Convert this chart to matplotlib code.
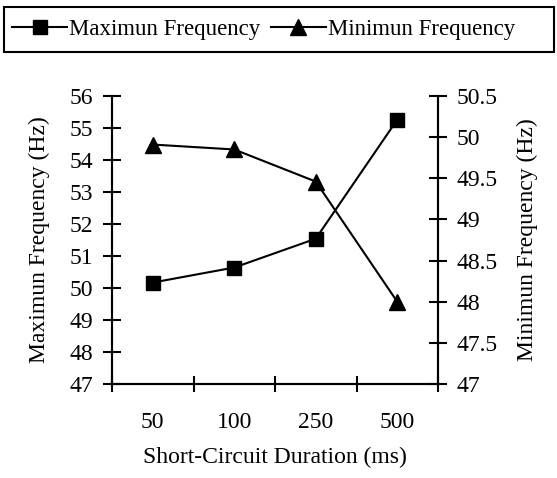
import numpy as np
import matplotlib.pyplot as plt
from matplotlib.patches import Rectangle

plt.rcParams['font.family'] = ['Liberation Serif', 'DejaVu Serif']
plt.rcParams['font.size'] = 17

durations = ['50', '100', '250', '500']
max_freq = [50.17, 50.64, 51.54, 55.26]
min_freq = [49.91, 49.85, 49.46, 48.0]

W, H = 557, 478
fig = plt.figure(figsize=(W / 100, H / 100), dpi=100)
ax = fig.add_axes([112 / W, 1 - 384 / H, 326 / W, 288 / H])
ax2 = ax.twinx()

x = np.arange(len(durations)) + 0.5

l1, = ax.plot(x, max_freq, color='black', lw=1.5, marker='s', ms=10,
              label='Maximun Frequency')
l2, = ax2.plot(x, min_freq, color='black', lw=1.5, marker='^', ms=11,
               label='Minimun Frequency')

ax.set_xlim(0, 4)
ax.set_ylim(47, 56)
ax.set_yticks(np.arange(47, 57, 1))
ax2.set_ylim(47, 50.5)
ax2.set_yticks(np.arange(47, 50.51, 0.5))
ax2.set_yticklabels(['47', '47.5', '48', '48.5', '49', '49.5', '50', '50.5'])

# category boundaries carry the tick marks, centers carry the labels
ax.set_xticks(np.arange(0, 5))
ax.set_xticklabels([])
ax.set_xticks(x, minor=True)
ax.set_xticklabels(durations, minor=True)
ax.tick_params(axis='x', which='major', direction='inout', length=12, width=1.5)
ax.tick_params(axis='x', which='minor', length=0, pad=20)
ax.tick_params(axis='y', direction='inout', length=12.5, width=1.5, pad=7.5)
ax2.tick_params(axis='y', direction='inout', length=12.5, width=1.5, pad=7)

for a in (ax, ax2):
    a.spines['top'].set_visible(False)
    for s in ('left', 'right', 'bottom'):
        a.spines[s].set_linewidth(1.5)

ax.set_xlabel('Short-Circuit Duration (ms)', labelpad=10)
ax.set_ylabel('Maximun Frequency (Hz)', labelpad=14)
ax2.set_ylabel('Minimun Frequency (Hz)', labelpad=14)

# legend row across the top, with its own box
fig.legend(handles=[l1, l2], loc='center left', ncol=2,
           bbox_to_anchor=(12 / W, 1 - 29.5 / H), frameon=False,
           fontsize=16.5, handlelength=2.4, handletextpad=0.1,
           columnspacing=0.45, borderpad=0, borderaxespad=0)
fig.add_artist(Rectangle((4 / W, 1 - 52 / H), 550 / W, 45 / H,
                         transform=fig.transFigure, fill=False,
                         edgecolor='black', lw=1.5))

fig.savefig('out.png', dpi=100)
